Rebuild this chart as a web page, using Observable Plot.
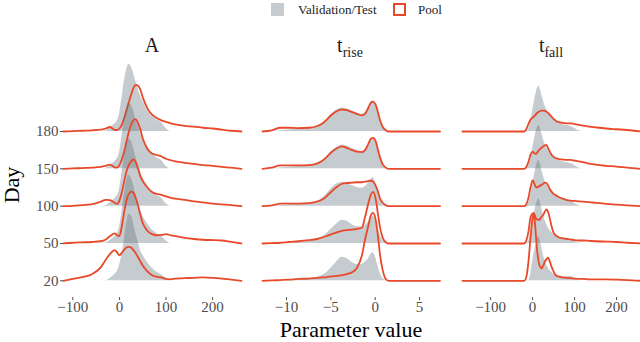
<!DOCTYPE html>
<html><head><meta charset="utf-8">
<script src="https://cdn.jsdelivr.net/npm/d3@7"></script>
<script src="https://cdn.jsdelivr.net/npm/@observablehq/plot@0.6"></script>
<style>
body{margin:0;background:#fff;font-family:"Liberation Serif","Times New Roman",serif;}
#wrap{position:relative;width:640px;height:342px;overflow:hidden;background:#fff;}
.abs{position:absolute;white-space:nowrap;line-height:1;}
.ctr{transform:translate(-50%,-50%);}
sub{font-size:14px;vertical-align:-5px;line-height:0;}
</style></head><body><div id="wrap">
<div class="abs" style="left:271px;top:3px;width:13px;height:13px;background:#c5cbce"></div>
<div class="abs" style="left:298px;top:3px;font-size:13px;color:#1a1a1a">Validation/Test</div>
<div class="abs" style="left:393px;top:3px;width:13px;height:13px;border:2px solid #e8492a;box-sizing:border-box;background:#fff"></div>
<div class="abs" style="left:418px;top:3px;font-size:13px;color:#1a1a1a">Pool</div>
<div class="abs ctr" style="left:152px;top:45px;font-size:20px;color:#1a1a1a">A</div>
<div class="abs ctr" style="left:350px;top:45px;font-size:20px;color:#1a1a1a">t<sub>rise</sub></div>
<div class="abs ctr" style="left:551px;top:45px;font-size:20px;color:#1a1a1a">t<sub>fall</sub></div>
<div class="abs" style="left:12px;top:185px;font-size:22px;color:#000;transform:translate(-50%,-50%) rotate(-90deg)">Day</div>
<div class="abs ctr" style="left:351px;top:330px;font-size:22px;color:#000">Parameter value</div>
<div id="p1" class="abs" style="left:0;top:20px"></div>
<div id="p2" class="abs" style="left:250px;top:20px"></div>
<div id="p3" class="abs" style="left:450px;top:20px"></div>
</div>
<script>
const days = ["20", "50", "100", "150", "180"];
const seriesNames = ["Validation/Test", "Pool"];

// ---- A ----
const A_x = [-120,-100,-80,-60,-40,-30,-20,-10,-5,0,5,10,15,20,25,30,35,40,45,50,60,70,80,90,100,110,120,140,160,180,200,220,240,262];
const A_ticks = [-100, 0, 100, 200];
const A_val_20  = [0,0,0,0,0,0,0.06,0.17,0.24,0.4,0.68,1.05,1.5,1.78,1.75,1.57,1.28,1.05,0.82,0.69,0.5,0.34,0.23,0.16,0.07,0,0,0,0,0,0,0,0,0];
const A_val_50  = [0,0,0,0,0,0.01,0.08,0.18,0.25,0.42,0.8,1.28,1.65,1.83,1.77,1.58,1.32,1.08,0.9,0.75,0.53,0.37,0.27,0.2,0.07,0,0,0,0,0,0,0,0,0];
const A_val_100 = [0,0,0,0,0,0.01,0.1,0.2,0.27,0.44,0.84,1.3,1.63,1.8,1.75,1.57,1.33,1.1,0.93,0.78,0.55,0.39,0.29,0.22,0.07,0,0,0,0,0,0,0,0,0];
const A_val_150 = [0,0,0,0,0,0.01,0.09,0.19,0.26,0.43,0.82,1.27,1.6,1.76,1.72,1.56,1.33,1.12,0.95,0.8,0.56,0.4,0.3,0.23,0.07,0,0,0,0,0,0,0,0,0];
const A_val_180 = [0,0,0,0,0,0.01,0.1,0.2,0.27,0.45,0.85,1.3,1.62,1.8,1.74,1.58,1.35,1.14,0.96,0.82,0.57,0.41,0.31,0.24,0.08,0,0,0,0,0,0,0,0,0];
const A_pool_20  = [0,0.05,0.1,0.17,0.36,0.55,0.72,0.82,0.76,0.68,0.75,0.83,0.89,0.91,0.89,0.82,0.74,0.63,0.52,0.41,0.25,0.15,0.11,0.09,0.05,0.04,0.06,0.07,0.08,0.09,0.08,0.06,0.03,0];
const A_pool_50  = [0,0.02,0.03,0.04,0.06,0.1,0.2,0.27,0.22,0.2,0.45,0.82,1.15,1.32,1.39,1.36,1.22,1.02,0.76,0.55,0.34,0.25,0.22,0.23,0.25,0.22,0.2,0.15,0.12,0.1,0.09,0.08,0.04,0];
const A_pool_100 = [0,0.01,0.03,0.05,0.12,0.17,0.16,0.09,0.06,0.15,0.36,0.65,0.92,1.1,1.2,1.25,1.18,1.0,0.8,0.67,0.5,0.38,0.33,0.3,0.26,0.22,0.2,0.17,0.13,0.1,0.07,0.05,0.03,0];
const A_pool_150 = [0,0.01,0.02,0.03,0.05,0.08,0.11,0.04,0.03,0.1,0.25,0.45,0.72,0.98,1.18,1.3,1.33,1.22,1.05,0.82,0.54,0.41,0.37,0.33,0.27,0.23,0.2,0.16,0.13,0.1,0.08,0.05,0.03,0];
const A_pool_180 = [0,0.01,0.02,0.03,0.05,0.08,0.12,0.04,0.04,0.08,0.18,0.35,0.56,0.78,0.98,1.16,1.25,1.22,1.12,0.92,0.62,0.45,0.36,0.3,0.26,0.22,0.19,0.15,0.13,0.1,0.08,0.05,0.02,0];

// ---- t_rise ----
const R_x = [-12.7,-11.65,-10.7,-9.75,-8.65,-7.5,-6.6,-6.0,-5.45,-4.9,-4.3,-3.75,-3.2,-2.6,-2.05,-1.5,-1.15,-0.75,-0.5,-0.25,0.05,0.3,0.55,0.85,1.15,1.5,2.25,7.3];
const R_ticks = [-10, -5, 0, 5];
const R_val_20  = [0,0,0,0.01,0.03,0.05,0.09,0.14,0.22,0.36,0.52,0.63,0.6,0.49,0.44,0.44,0.5,0.6,0.7,0.75,0.62,0.4,0.2,0.07,0.02,0,0,0];
const R_val_50  = [0,0,0,0.02,0.04,0.07,0.12,0.17,0.27,0.4,0.53,0.62,0.6,0.5,0.45,0.44,0.48,0.58,0.68,0.72,0.62,0.42,0.22,0.08,0.02,0,0,0];
const R_val_100 = [0,0,0.02,0.03,0.05,0.07,0.12,0.2,0.33,0.48,0.6,0.64,0.6,0.55,0.5,0.48,0.52,0.62,0.72,0.76,0.62,0.4,0.2,0.08,0.02,0,0,0];
const R_val_150 = [0,0,0.02,0.04,0.06,0.08,0.13,0.2,0.33,0.47,0.58,0.64,0.61,0.55,0.5,0.46,0.5,0.65,0.76,0.79,0.72,0.53,0.31,0.13,0.05,0,0,0];
const R_val_180 = [0,0,0.02,0.04,0.06,0.08,0.13,0.2,0.33,0.47,0.58,0.63,0.61,0.55,0.5,0.46,0.5,0.66,0.78,0.82,0.74,0.55,0.32,0.14,0.05,0,0,0];
const R_pool_20  = [0,0.01,0.02,0.03,0.05,0.06,0.08,0.09,0.1,0.12,0.13,0.15,0.18,0.23,0.35,0.68,1.1,1.5,1.75,1.82,1.64,1.22,0.68,0.28,0.06,0,0,0];
const R_pool_50  = [0,0.01,0.02,0.04,0.06,0.09,0.12,0.16,0.2,0.25,0.3,0.34,0.36,0.37,0.39,0.42,0.7,1.1,1.3,1.38,1.2,0.8,0.42,0.15,0.04,0,0,0];
const R_pool_100 = [0,0.02,0.07,0.07,0.07,0.08,0.12,0.17,0.27,0.4,0.52,0.6,0.62,0.63,0.64,0.64,0.66,0.67,0.68,0.66,0.55,0.4,0.2,0.09,0.03,0,0,0];
const R_pool_150 = [0,0.03,0.09,0.09,0.09,0.1,0.14,0.21,0.32,0.45,0.55,0.6,0.56,0.5,0.46,0.45,0.5,0.68,0.8,0.83,0.74,0.52,0.3,0.12,0.04,0,0,0];
const R_pool_180 = [0,0.03,0.1,0.1,0.09,0.1,0.14,0.21,0.32,0.45,0.55,0.59,0.57,0.52,0.47,0.43,0.47,0.65,0.77,0.8,0.72,0.52,0.3,0.12,0.04,0,0,0];

// ---- t_fall ----
const F_x = [-167,-100,-50,-20,-15,-10,-5,0,2,5,8,10,12,15,18,21,25,29,33,37,41,45,50,55,63,71,80,90,100,110,120,135,150,175,200,225,257];
const F_ticks = [-100, 0, 100, 200];
const F_val_20  = [0,0,0,0,0,0,0.15,0.51,0.65,0.82,0.96,1.06,1.15,1.18,1.08,0.93,0.72,0.55,0.44,0.35,0.28,0.23,0.18,0.14,0.11,0.1,0.11,0.12,0.07,0.01,0,0,0,0,0,0,0];
const F_val_50  = [0,0,0,0,0,0.05,0.26,0.56,0.69,0.86,1.02,1.1,1.16,1.2,1.12,0.98,0.8,0.64,0.52,0.43,0.36,0.3,0.25,0.2,0.16,0.13,0.11,0.09,0.06,0.01,0,0,0,0,0,0,0];
const F_val_100 = [0,0,0,0,0,0.05,0.26,0.56,0.69,0.86,1.03,1.12,1.18,1.22,1.14,1.0,0.84,0.69,0.58,0.5,0.43,0.37,0.31,0.26,0.21,0.18,0.16,0.13,0.08,0.02,0,0,0,0,0,0,0];
const F_val_150 = [0,0,0,0,0,0.05,0.24,0.53,0.66,0.82,0.98,1.06,1.12,1.16,1.1,0.97,0.82,0.68,0.58,0.5,0.43,0.38,0.32,0.27,0.22,0.19,0.17,0.14,0.09,0.02,0,0,0,0,0,0,0];
const F_val_180 = [0,0,0,0,0,0.05,0.25,0.55,0.68,0.85,1.02,1.1,1.17,1.21,1.14,1.01,0.85,0.7,0.6,0.51,0.44,0.39,0.33,0.28,0.22,0.19,0.17,0.14,0.09,0.02,0,0,0,0,0,0,0];
const F_pool_20  = [0,0,0,0,0.1,0.5,1.15,1.7,1.78,1.62,1.2,0.9,0.7,0.47,0.38,0.33,0.4,0.51,0.58,0.62,0.52,0.38,0.25,0.15,0.11,0.09,0.08,0.07,0.06,0.05,0.05,0.04,0.04,0.04,0.03,0.02,0];
const F_pool_50  = [0,0,0,0,0.08,0.31,0.7,0.8,0.82,0.76,0.67,0.65,0.64,0.63,0.66,0.71,0.76,0.85,0.91,0.84,0.67,0.47,0.29,0.22,0.16,0.14,0.12,0.11,0.09,0.08,0.08,0.07,0.06,0.05,0.04,0.02,0];
const F_pool_100 = [0,0,0,0,0.05,0.22,0.5,0.69,0.66,0.58,0.51,0.5,0.51,0.53,0.55,0.57,0.6,0.63,0.62,0.55,0.46,0.39,0.33,0.29,0.24,0.2,0.17,0.15,0.14,0.13,0.12,0.11,0.09,0.06,0.04,0.02,0];
const F_pool_150 = [0,0,0,0,0.05,0.18,0.38,0.46,0.44,0.41,0.4,0.42,0.45,0.5,0.53,0.56,0.6,0.63,0.64,0.55,0.46,0.38,0.32,0.29,0.26,0.25,0.24,0.24,0.22,0.2,0.18,0.14,0.11,0.08,0.06,0.03,0];
const F_pool_180 = [0,0,0,0,0.06,0.2,0.32,0.37,0.39,0.42,0.46,0.49,0.51,0.53,0.55,0.56,0.56,0.55,0.53,0.5,0.45,0.4,0.34,0.29,0.25,0.23,0.22,0.22,0.2,0.18,0.16,0.13,0.11,0.08,0.06,0.04,0];

const GRAY = "#596a73";
const ORANGE = "#e8492a";
const fmt = d => d < 0 ? "\u2212" + Math.abs(d) : String(d);

function panel(grid, vals, pools, ticks, o) {
  const marks = [];
  for (let i = 4; i >= 0; i--) {
    const gd = grid.map((x, j) => ({x, y1: i, y2: i + vals[i][j]}));
    const pd = grid.map((x, j) => ({x, y: i + pools[i][j]}));
    marks.push(Plot.areaY(gd, {x: "x", y1: "y1", y2: "y2", fill: GRAY, fillOpacity: 0.35, curve: "monotone-x"}));
    marks.push(Plot.line(pd, {x: "x", y: "y", stroke: ORANGE, strokeWidth: 1.8, curve: "monotone-x"}));
  }
  marks.push(Plot.axisX({ticks, tickFormat: fmt, tickSize: 3, tickPadding: 1, fontSize: 15, label: null}));
  if (o.yAxis) marks.push(Plot.axisY({ticks: [0,1,2,3,4], tickFormat: i => days[i], tickSize: 3, tickPadding: 2, fontSize: 15, label: null}));
  return Plot.plot({
    width: o.width, height: 300,
    marginLeft: o.ml, marginRight: o.mr, marginTop: 36.35, marginBottom: 22.9,
    x: {domain: [grid[0], grid[grid.length - 1]], axis: null},
    y: {domain: [-0.45, 6], axis: null},
    style: {fontFamily: '"Liberation Serif", serif', color: "#4d4d4d", background: "transparent", overflow: "visible"},
    marks
  });
}

document.getElementById("p1").append(panel(A_x,
  [A_val_20, A_val_50, A_val_100, A_val_150, A_val_180],
  [A_pool_20, A_pool_50, A_pool_100, A_pool_150, A_pool_180], A_ticks,
  {width: 250, ml: 63, mr: 9, yAxis: true}));
document.getElementById("p2").append(panel(R_x,
  [R_val_20, R_val_50, R_val_100, R_val_150, R_val_180],
  [R_pool_20, R_pool_50, R_pool_100, R_pool_150, R_pool_180], R_ticks,
  {width: 200, ml: 12, mr: 10.5}));
document.getElementById("p3").append(panel(F_x,
  [F_val_20, F_val_50, F_val_100, F_val_150, F_val_180],
  [F_pool_20, F_pool_50, F_pool_100, F_pool_150, F_pool_180], F_ticks,
  {width: 190, ml: 12, mr: 0}));
</script>
</body></html>
